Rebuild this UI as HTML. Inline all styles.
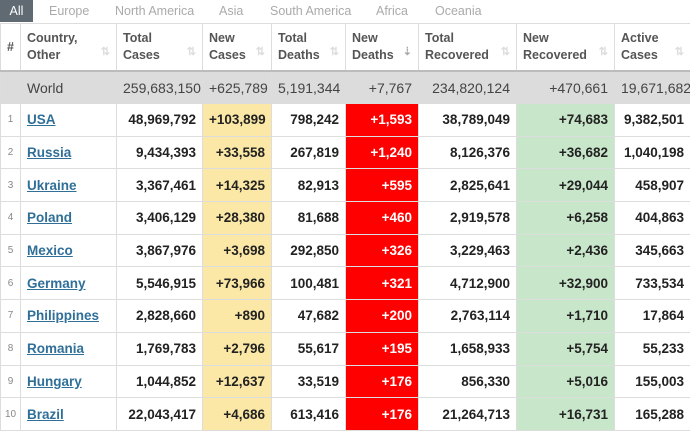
<!DOCTYPE html>
<html><head><meta charset="utf-8"><style>
body{margin:0;width:690px;height:432px;overflow:hidden;background:#fff;font-family:"Liberation Sans",Arial,sans-serif;}
.tabs{height:23px;position:relative;font-size:12.5px;color:#aaa;}
.tabs span{position:absolute;top:4px;}
.tabs .all{left:0;top:0;width:33px;height:22px;background:#5f6a72;color:#fff;text-align:center;line-height:22px;}
table{border-collapse:collapse;table-layout:fixed;width:690px;position:absolute;top:23px;left:0;}
td,th{border:1px solid #ddd;padding:0 6px;white-space:nowrap;overflow:hidden;}
th{height:46px;font-size:12.5px;color:#555;text-align:left;font-weight:bold;vertical-align:middle;position:relative;line-height:17px;border-bottom:2px solid #bbb;}
th i{position:absolute;right:6px;bottom:9px;color:#ddd;font-style:normal;font-size:11px;}
tr.w td{background:#dcdcdc;height:31px;font-size:14px;color:#444;text-align:right;}
tr.r td{height:31.7px;font-size:13.5px;font-weight:bold;color:#222;text-align:right;}
td.n{font-size:10px!important;font-weight:normal!important;color:#888!important;text-align:center!important;padding:0;}
td.c{text-align:left!important;color:#2f6f98!important;text-decoration:underline;}
tr.w td.c{color:#444!important;text-decoration:none;font-weight:normal;}
td.y{background:#fbe8a6;}
td.d{background:#f00;color:#fff!important;}
td.g{background:#c8e6c9;}
</style></head><body>
<div class="tabs"><span class="all">All</span><span style="left:49px">Europe</span><span style="left:115px">North America</span><span style="left:219px">Asia</span><span style="left:270px">South America</span><span style="left:376px">Africa</span><span style="left:435px">Oceania</span></div>
<table>
<colgroup><col style="width:20px"><col style="width:96px"><col style="width:86px"><col style="width:69px"><col style="width:74px"><col style="width:73px"><col style="width:98px"><col style="width:98px"><col style="width:76px"></colgroup>
<tr><th style="text-align:center;padding:0">#</th><th>Country,<br>Other<i>⇅</i></th><th>Total<br>Cases<i>⇅</i></th><th>New<br>Cases<i>⇅</i></th><th>Total<br>Deaths<i>⇅</i></th><th>New<br>Deaths<i style="color:#aaa">⇣</i></th><th>Total<br>Recovered<i>⇅</i></th><th>New<br>Recovered<i>⇅</i></th><th>Active<br>Cases<i>⇅</i></th></tr>
<tr class="w"><td></td><td class="c">World</td><td>259,683,150</td><td>+625,789</td><td>5,191,344</td><td>+7,767</td><td>234,820,124</td><td>+470,661</td><td>19,671,682</td></tr>
<tr class="r"><td class="n">1</td><td class="c">USA</td><td>48,969,792</td><td class="y">+103,899</td><td>798,242</td><td class="d">+1,593</td><td>38,789,049</td><td class="g">+74,683</td><td>9,382,501</td></tr>
<tr class="r"><td class="n">2</td><td class="c">Russia</td><td>9,434,393</td><td class="y">+33,558</td><td>267,819</td><td class="d">+1,240</td><td>8,126,376</td><td class="g">+36,682</td><td>1,040,198</td></tr>
<tr class="r"><td class="n">3</td><td class="c">Ukraine</td><td>3,367,461</td><td class="y">+14,325</td><td>82,913</td><td class="d">+595</td><td>2,825,641</td><td class="g">+29,044</td><td>458,907</td></tr>
<tr class="r"><td class="n">4</td><td class="c">Poland</td><td>3,406,129</td><td class="y">+28,380</td><td>81,688</td><td class="d">+460</td><td>2,919,578</td><td class="g">+6,258</td><td>404,863</td></tr>
<tr class="r"><td class="n">5</td><td class="c">Mexico</td><td>3,867,976</td><td class="y">+3,698</td><td>292,850</td><td class="d">+326</td><td>3,229,463</td><td class="g">+2,436</td><td>345,663</td></tr>
<tr class="r"><td class="n">6</td><td class="c">Germany</td><td>5,546,915</td><td class="y">+73,966</td><td>100,481</td><td class="d">+321</td><td>4,712,900</td><td class="g">+32,900</td><td>733,534</td></tr>
<tr class="r"><td class="n">7</td><td class="c">Philippines</td><td>2,828,660</td><td class="y">+890</td><td>47,682</td><td class="d">+200</td><td>2,763,114</td><td class="g">+1,710</td><td>17,864</td></tr>
<tr class="r"><td class="n">8</td><td class="c">Romania</td><td>1,769,783</td><td class="y">+2,796</td><td>55,617</td><td class="d">+195</td><td>1,658,933</td><td class="g">+5,754</td><td>55,233</td></tr>
<tr class="r"><td class="n">9</td><td class="c">Hungary</td><td>1,044,852</td><td class="y">+12,637</td><td>33,519</td><td class="d">+176</td><td>856,330</td><td class="g">+5,016</td><td>155,003</td></tr>
<tr class="r"><td class="n">10</td><td class="c">Brazil</td><td>22,043,417</td><td class="y">+4,686</td><td>613,416</td><td class="d">+176</td><td>21,264,713</td><td class="g">+16,731</td><td>165,288</td></tr>
</table>
</body></html>
